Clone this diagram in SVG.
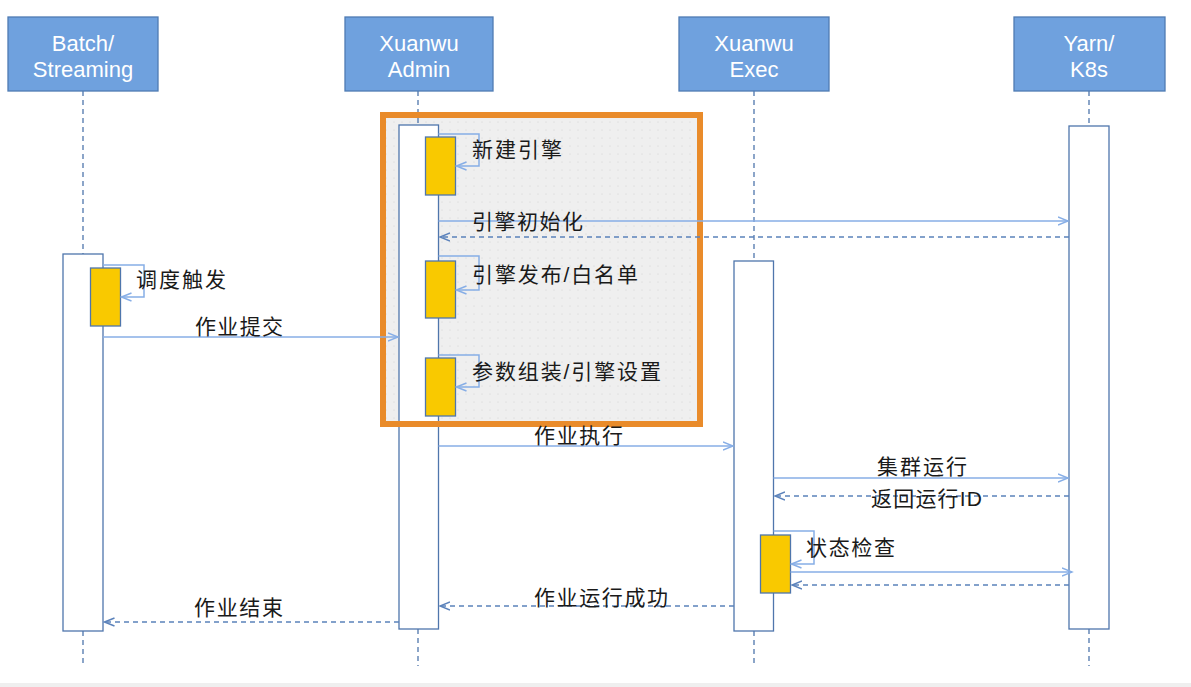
<svg xmlns="http://www.w3.org/2000/svg" width="1191" height="687" viewBox="0 0 1191 687">
<style>
.hdr{fill:#6fa1de;stroke:#4f7bb3;stroke-width:1.3}
.hdrt{font-family:"Helvetica Neue","Liberation Sans",Arial,sans-serif;font-size:22px;fill:#ffffff;text-anchor:middle}
.life{stroke:#4f76ac;stroke-width:1.3;stroke-dasharray:5 4;fill:none}
.act{fill:#ffffff;stroke:#4f76ac;stroke-width:1.3}
.yel{fill:#f9c900;stroke:#4f76ac;stroke-width:1.3}
.msg{stroke:#87aee6;stroke-width:1.5;fill:none;marker-end:url(#ahs)}
.ret{stroke:#5b82bb;stroke-width:1.3;stroke-dasharray:5 4;fill:none;marker-end:url(#ahd)}
.lbl{font-family:"Liberation Sans","Noto Sans CJK SC",sans-serif;font-size:21px;fill:#1a1a1a}
</style>
<defs>
<pattern id="dots" patternUnits="userSpaceOnUse" width="8" height="8">
<rect width="8" height="8" fill="#efefef"/>
<circle cx="2" cy="2" r="0.6" fill="#d2d2d2"/>
</pattern>
<marker id="ahs" markerUnits="userSpaceOnUse" markerWidth="12" markerHeight="10" refX="10" refY="5" orient="auto">
<path d="M0,1 L10,5 L0,9" fill="none" stroke="#87aee6" stroke-width="1.4"/>
</marker>
<marker id="ahd" markerUnits="userSpaceOnUse" markerWidth="12" markerHeight="10" refX="10" refY="5" orient="auto">
<path d="M0,1 L10,5 L0,9" fill="none" stroke="#5b82bb" stroke-width="1.4"/>
</marker>
</defs>
<rect x="0" y="0" width="1191" height="687" fill="#ffffff"/>
<rect x="0" y="683" width="1191" height="4" fill="url(#dots)"/>

<g id="frame-fill">
<rect x="383" y="115" width="317" height="309" fill="url(#dots)"/>
</g>

<g id="lifelines">
<line class="life" x1="83" y1="91" x2="83" y2="254"/>
<line class="life" x1="83" y1="631" x2="83" y2="666"/>
<line class="life" x1="418" y1="91" x2="418" y2="125"/>
<line class="life" x1="418" y1="629" x2="418" y2="666"/>
<line class="life" x1="754" y1="91" x2="754" y2="261"/>
<line class="life" x1="754" y1="631" x2="754" y2="666"/>
<line class="life" x1="1089" y1="91" x2="1089" y2="126"/>
<line class="life" x1="1089" y1="629" x2="1089" y2="666"/>
</g>

<g id="batch">
<rect class="hdr" x="8" y="17" width="150" height="74"/>
<text class="hdrt" x="83" y="51">Batch/</text>
<text class="hdrt" x="83" y="77">Streaming</text>
<rect class="act" x="63" y="254" width="40" height="377"/>
<rect class="yel" x="90.5" y="268" width="30" height="58"/>
</g>

<g id="admin">
<rect class="hdr" x="345" y="17" width="148" height="74"/>
<text class="hdrt" x="419" y="51">Xuanwu</text>
<text class="hdrt" x="419" y="77">Admin</text>
<rect class="act" x="399" y="125" width="39.5" height="504"/>
<rect class="yel" x="425.5" y="137" width="30" height="58"/>
<rect class="yel" x="425.5" y="261" width="30" height="57"/>
<rect class="yel" x="425.5" y="358" width="30" height="58"/>
</g>

<g id="frame">
<rect x="383" y="115" width="317" height="309" fill="none" stroke="#e98b2a" stroke-width="6"/>
</g>

<g id="exec">
<rect class="hdr" x="679" y="17" width="150" height="74"/>
<text class="hdrt" x="754" y="51">Xuanwu</text>
<text class="hdrt" x="754" y="77">Exec</text>
<rect class="act" x="734" y="261" width="39.5" height="370"/>
<rect class="yel" x="760.5" y="535" width="30" height="58"/>
</g>

<g id="yarn">
<rect class="hdr" x="1014" y="17" width="151" height="74"/>
<text class="hdrt" x="1089" y="51">Yarn/</text>
<text class="hdrt" x="1089" y="77">K8s</text>
<rect class="act" x="1069" y="126" width="40" height="503"/>
</g>

<g id="connectors">
<path class="msg" d="M438.5,134 H479 V166 H456.5"/>
<path class="msg" d="M438.5,221 H1068"/>
<path class="ret" d="M1069,237 H440"/>
<path class="msg" d="M438.5,256 H479 V290 H456.5"/>
<path class="msg" d="M103,265 H144 V297 H121.5"/>
<path class="msg" d="M103,337 H398"/>
<path class="msg" d="M438.5,355 H479 V387 H456.5"/>
<path class="msg" d="M438.5,446 H733"/>
<path class="msg" d="M773.5,478 H1068"/>
<path class="ret" d="M1069,496 H775"/>
<path class="msg" d="M773.5,531 H814 V564 H791.5"/>
<path class="msg" d="M790.5,572 H1072"/>
<path class="ret" d="M1069,585 H792"/>
<path class="ret" d="M734,606 H440"/>
<path class="ret" d="M399,622 H104.5"/>
</g>

<g id="labels">
<text class="lbl" x="472" y="157" textLength="90">新建引擎</text>
<text class="lbl" x="472" y="229" textLength="111">引擎初始化</text>
<text class="lbl" x="472" y="282" textLength="166">引擎发布/白名单</text>
<text class="lbl" x="472" y="379" textLength="189">参数组装/引擎设置</text>
<text class="lbl" x="136" y="287" textLength="90">调度触发</text>
<text class="lbl" x="195" y="334" textLength="88">作业提交</text>
<text class="lbl" x="534" y="443" textLength="89">作业执行</text>
<text class="lbl" x="877" y="474" textLength="90">集群运行</text>
<text class="lbl" x="871" y="506" textLength="111">返回运行ID</text>
<text class="lbl" x="806" y="555" textLength="89">状态检查</text>
<text class="lbl" x="534" y="605" textLength="134">作业运行成功</text>
<text class="lbl" x="194" y="615" textLength="89">作业结束</text>
</g>
</svg>
